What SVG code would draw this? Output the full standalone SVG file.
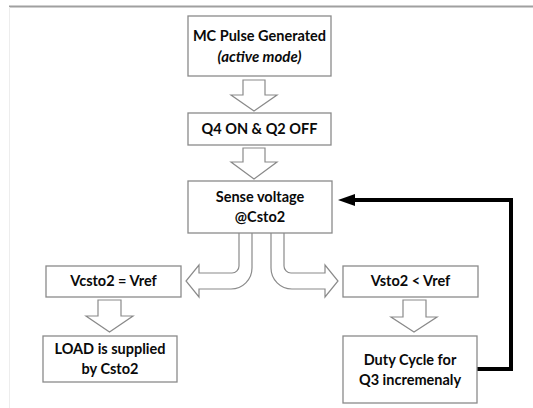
<svg xmlns="http://www.w3.org/2000/svg" width="533" height="408" viewBox="0 0 533 408">
  <defs>
    <style>
      .box { fill: #ffffff; stroke: #8a8a8a; stroke-width: 1.3; }
      .harrow { fill: #ffffff; stroke: #8a8a8a; stroke-width: 1.2; stroke-linejoin: miter; }
      .t { font-family: Lato, "Open Sans", "Liberation Sans", sans-serif; font-weight: bold; font-size: 14.5px; fill: #0a0a0a; text-anchor: middle; }
      .it { font-style: italic; font-size: 15px; }
      .fb { fill: none; stroke: #000000; stroke-width: 4; stroke-linejoin: miter; }
    </style>
    <marker id="head" markerUnits="userSpaceOnUse" viewBox="0 0 17 12" markerWidth="17" markerHeight="12" refX="5" refY="6" orient="auto">
      <path d="M0,0 L17,6 L0,12 Z" fill="#000000"/>
    </marker>
  </defs>
  <rect width="533" height="408" fill="#ffffff"/>
  <line x1="9" y1="6.5" x2="533" y2="6.5" stroke="#a0a0a0" stroke-width="2"/>
  <line x1="9.5" y1="7" x2="9.5" y2="408" stroke="#ededed" stroke-width="1"/>

  <g id="connectors">
    <polygon class="harrow" points="243,80 265,80 265,95 277,95 254,111 231,95 243,95"/>
    <polygon class="harrow" points="243,148 265,148 265,162 277,162 254,179 231,162 243,162"/>
    <path class="harrow" d="M252 233 L252 268 A21 21 0 0 1 231 289 L199 289 L199 297 L186 281 L199 265 L199 273 L232 273 A7 7 0 0 0 239 266 L239 233"/>
    <path class="harrow" d="M271 233 L271 268 A21 21 0 0 0 292 289 L325 289 L325 297 L338 281 L325 265 L325 273 L291 273 A7 7 0 0 1 284 266 L284 233"/>
    <polygon class="harrow" points="98,300 121,300 121,316 133,316 109.5,332 86,316 98,316"/>
    <polygon class="harrow" points="403,300 426,300 426,317 437,317 414,332 391,317 403,317"/>
    <path class="fb" d="M477 369 H511 V200 H350" marker-end="url(#head)"/>
  </g>

  <g id="n1">
    <rect class="box" x="188" y="16" width="143" height="60"/>
    <text class="t" x="259.5" y="41">MC Pulse Generated</text>
    <text class="t it" x="259.5" y="62">(active mode)</text>
  </g>
  <g id="n2">
    <rect class="box" x="188" y="113" width="143" height="32"/>
    <text class="t" x="259.5" y="134">Q4 ON &amp; Q2 OFF</text>
  </g>
  <g id="n3">
    <rect class="box" x="188" y="181" width="144" height="52"/>
    <text class="t" x="260" y="202">Sense voltage</text>
    <text class="t" x="260" y="222">@Csto2</text>
  </g>
  <g id="n4">
    <rect class="box" x="46" y="266" width="135" height="31"/>
    <text class="t" x="113.5" y="286">Vcsto2 = Vref</text>
  </g>
  <g id="n5">
    <rect class="box" x="343" y="266" width="135" height="31"/>
    <text class="t" x="410.5" y="286">Vsto2 &lt; Vref</text>
  </g>
  <g id="n6">
    <rect class="box" x="43" y="336" width="134" height="46"/>
    <text class="t" x="110" y="354">LOAD is supplied</text>
    <text class="t" x="110" y="374">by Csto2</text>
  </g>
  <g id="n7">
    <rect class="box" x="343" y="336" width="134" height="67"/>
    <text class="t" x="410" y="365">Duty Cycle for</text>
    <text class="t" x="410" y="385">Q3 incremenaly</text>
  </g>
</svg>
